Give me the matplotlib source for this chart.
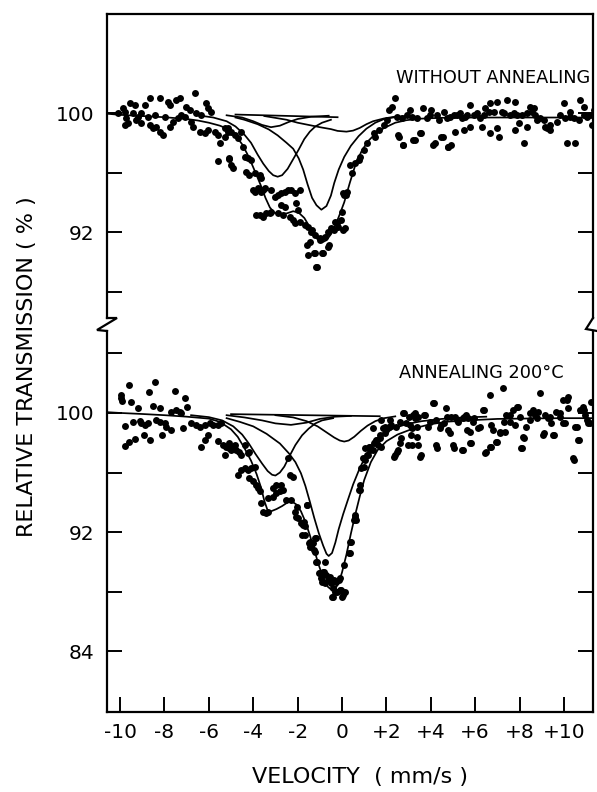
import matplotlib
matplotlib.use("Agg")
import matplotlib.pyplot as plt
from matplotlib.lines import Line2D

plt.rcParams['font.family'] = ['DejaVu Sans']

# ---------------- data (velocity mm/s, relative transmission %) ----------------
x_ticks = [-10, -8, -6, -4, -2, 0, 2, 4, 6, 8, 10]
x_tick_labels = ["-10", "-8", "-6", "-4", "-2", "0", "+2", "+4", "+6", "+8", "+10"]
top_yticks = [88, 92, 96, 100]
top_ylabels = ["", "92", "", "100"]
bot_yticks = [84, 88, 92, 96, 100, 104]
bot_ylabels = ["84", "", "92", "", "100", ""]

# --- upper spectrum (without annealing): measured points ---
upper_pts_left = [
    (-10.09, 99.98), (-9.87, 100.32), (-9.79, 100.1), (-9.57, 100.65), (-9.34, 100.54), (-9.72, 99.65),
    (-9.42, 99.98), (-9.19, 99.76), (-9.04, 99.98), (-8.89, 100.54), (-8.66, 100.99), (-8.21, 100.99),
    (-7.84, 100.77), (-7.76, 100.54), (-7.46, 100.88), (-7.31, 101.03), (-6.64, 101.32), (-7.01, 100.43),
    (-6.86, 100.21), (-6.12, 100.65), (-6.04, 100.32), (-5.89, 100.1), (-9.79, 99.19), (-9.64, 99.31),
    (-9.27, 99.53), (-9.04, 99.31), (-8.66, 99.19), (-8.51, 98.97), (-8.36, 99.08), (-8.21, 98.75),
    (-8.06, 98.52), (-7.76, 99.08), (-7.61, 99.42), (-7.39, 99.65), (-7.24, 99.87), (-7.09, 99.76),
    (-6.79, 99.42), (-6.72, 99.08), (-6.42, 98.75), (-6.19, 98.63), (-6.04, 98.86), (-5.74, 98.75),
    (-5.59, 98.52), (-5.52, 97.96), (-5.29, 98.97), (-5.29, 98.41), (-5.14, 98.75), (-5.59, 96.77),
    (-5.07, 96.99), (-4.99, 96.5), (-7.99, 99.76), (-8.44, 99.87), (-8.74, 99.76), (-6.57, 99.98),
    (-6.34, 99.87), (-5.14, 98.97), (-4.99, 98.75),
]
upper_pts_mid = [
    (-5.07, 96.88), (-4.92, 96.32), (-4.84, 98.52), (-4.69, 98.3), (-4.54, 98.75), (-4.47, 97.74),
    (-4.39, 97.07), (-4.23, 96.95), (-4.08, 96.84), (-4.32, 96.05), (-4.17, 95.83), (-3.94, 95.94),
    (-3.71, 95.83), (-3.63, 95.61), (-4.01, 94.83), (-3.94, 94.72), (-3.78, 94.94), (-3.63, 94.72),
    (-3.56, 94.83), (-3.48, 94.94), (-3.18, 94.83), (-3.86, 93.14), (-3.71, 93.14), (-3.56, 93.03),
    (-3.41, 93.26), (-3.26, 93.26), (-3.18, 93.37), (-3.03, 94.38), (-2.88, 94.49), (-2.73, 94.6),
    (-2.58, 94.72), (-2.43, 94.83), (-2.28, 94.83), (-2.13, 94.6), (-1.9, 94.83), (-2.73, 93.82),
    (-2.58, 93.71), (-2.06, 93.93), (-1.98, 93.48), (-2.88, 93.26), (-2.66, 93.14), (-2.36, 93.03),
    (-2.21, 92.81), (-2.13, 92.58), (-1.9, 92.7), (-1.68, 92.47), (-1.53, 92.36), (-1.38, 92.02),
    (-1.23, 91.8), (-1.45, 91.35), (-1.0, 91.46), (-0.78, 91.69), (-0.63, 92.02), (-0.48, 92.25),
    (-0.33, 92.7), (-0.03, 92.81), (0.05, 92.13), (-0.18, 92.36), (-1.53, 90.45), (-1.23, 90.56),
    (-0.85, 90.56), (-0.63, 91.01), (-1.15, 89.67), (0.05, 94.6), (0.2, 94.49), (0.35, 96.5),
    (-1.58, 91.13), (-1.28, 90.57), (-0.9, 90.57), (-1.13, 89.67), (-1.35, 92.13), (-0.98, 91.57),
    (-0.6, 91.13), (-0.37, 92.13), (-0.23, 92.58), (0.0, 93.37), (0.15, 92.25), (0.07, 94.49),
    (0.22, 94.71), (0.45, 95.94), (0.6, 96.62), (0.75, 96.84), (0.83, 97.06), (0.98, 97.51),
    (1.13, 97.96), (1.43, 98.63), (1.5, 98.41), (1.65, 98.86), (1.88, 99.19), (2.03, 99.53),
    (2.1, 100.2), (2.25, 100.42), (2.4, 100.99),
]
upper_pts_right = [
    (2.59, 98.41), (2.74, 97.85), (3.19, 98.18), (3.56, 98.63), (3.08, 100.2), (3.64, 100.31),
    (4.02, 100.2), (4.28, 99.87), (4.58, 100.09), (4.88, 99.76), (5.18, 99.87), (5.41, 99.64),
    (5.56, 99.76), (5.78, 100.54), (5.93, 99.87), (6.23, 99.64), (6.46, 100.31), (6.68, 100.65),
    (6.83, 100.09), (6.98, 100.76), (7.28, 99.98), (7.43, 100.87), (7.81, 100.76), (7.88, 99.87),
    (8.18, 97.96), (8.33, 99.08), (8.48, 100.42), (8.63, 100.31), (8.78, 99.53), (9.08, 99.53),
    (9.23, 98.97), (9.38, 98.86), (9.68, 99.42), (9.99, 100.65), (10.29, 99.76), (10.44, 99.64),
    (10.14, 97.96), (10.51, 97.96), (10.74, 100.87), (10.89, 100.42), (11.04, 99.76), (11.27, 99.19),
    (11.34, 100.2), (4.1, 97.85), (4.48, 98.41), (4.78, 97.74), (4.93, 97.85), (5.08, 98.75),
    (5.48, 98.86), (5.78, 99.08), (6.31, 99.08), (6.68, 98.63), (6.98, 98.97), (7.06, 98.41),
    (7.81, 98.86), (7.96, 99.31), (2.48, 99.76), (2.71, 99.64), (2.93, 99.87), (3.16, 99.76),
    (3.38, 99.64), (3.83, 99.64), (3.98, 99.87), (4.36, 99.53), (4.73, 99.64), (5.03, 99.87),
    (5.33, 99.98), (5.63, 99.87), (6.08, 99.98), (6.38, 99.87), (6.61, 100.09), (7.21, 100.09),
    (7.58, 99.87), (7.73, 99.98), (8.11, 99.87), (8.33, 99.98), (8.56, 100.09), (8.71, 99.87),
    (8.93, 99.64), (9.16, 99.08), (9.38, 99.19), (9.83, 99.87), (10.06, 99.64), (10.29, 100.09),
    (10.66, 99.53), (10.89, 99.87), (11.19, 99.87), (2.52, 98.52), (2.75, 97.85), (3.27, 98.18),
    (3.5, 98.63), (4.17, 97.96), (4.55, 98.41), (4.77, 97.74),
]

# --- upper spectrum: fitted envelope and sub-spectra ---
upper_fit_v = [-10.55, -10.0, -9.0, -8.0, -7.0, -6.5, -6.0, -5.5, -5.1, -4.8, -4.5, -4.2, -3.9, -3.65,
               -3.45, -3.25, -3.05, -2.8, -2.5, -2.2, -1.95, -1.7, -1.5, -1.3, -1.1, -0.9, -0.7, -0.5,
               -0.3, -0.1, 0.1, 0.35, 0.6, 0.9, 1.2, 1.5, 1.9, 2.4, 2.9, 3.5, 4.5, 6.0, 8.0, 10.0, 11.3]
upper_fit_t = [99.95, 99.88, 99.8, 99.72, 99.6, 99.5, 99.35, 99.15, 98.9, 98.5, 97.9, 97.05, 96.0, 95.1,
               94.3, 93.65, 93.3, 93.2, 93.25, 93.4, 93.3, 92.95, 92.45, 91.95, 91.5, 91.3, 91.45, 91.85,
               92.45, 93.2, 94.0, 95.3, 96.5, 97.5, 98.15, 98.6, 99.0, 99.35, 99.52, 99.62, 99.68, 99.7,
               99.7, 99.7, 99.7]
upper_c1_v = [-6.5, -5.8, -5.2, -4.8, -4.4, -4.1, -3.8, -3.55, -3.3, -3.1, -2.9, -2.7, -2.45, -2.2,
              -1.95, -1.7, -1.45, -1.2, -0.9, -0.5]
upper_c1_t = [99.85, 99.7, 99.45, 99.1, 98.55, 98.0, 97.2, 96.6, 96.1, 95.82, 95.72, 95.82, 96.25, 96.9,
              97.55, 98.25, 98.75, 99.1, 99.35, 99.55]
upper_c2_v = [-4.8, -4.4, -3.8, -3.3, -2.9, -2.5, -2.2, -1.95, -1.75, -1.55, -1.35, -1.15, -0.93, -0.7,
              -0.5, -0.35, -0.15, 0.1, 0.4, 0.75, 1.1, 1.5, 1.9, 2.5, 3.2]
upper_c2_t = [99.7, 99.55, 99.25, 98.9, 98.5, 98.0, 97.6, 96.95, 96.2, 95.2, 94.3, 93.8, 93.5, 93.75,
              94.45, 95.3, 96.2, 97.05, 97.8, 98.45, 98.95, 99.35, 99.6, 99.75, 99.82]
upper_c3_v = [-3.5, -2.5, -2.0, -1.5, -1.0, -0.5, -0.2, 0.2, 0.5, 0.8, 1.1, 1.4, 1.9, 2.5]
upper_c3_t = [99.8, 99.55, 99.35, 99.2, 99.05, 98.92, 98.8, 98.75, 98.82, 99.0, 99.25, 99.45, 99.64, 99.78]
upper_c4_v = [-5.2, -4.5, -4.0, -3.6, -3.2, -2.8, -2.4, -2.0, -1.4, -0.6]
upper_c4_t = [99.85, 99.7, 99.45, 99.2, 99.05, 99.15, 99.4, 99.6, 99.75, 99.82]
upper_c5_v = [-4.8, -0.2]
upper_c5_t = [99.9, 99.72]

# --- lower spectrum (annealing 200 C): measured points ---
lower_pts_left = [
    (-9.95, 101.2), (-9.61, 101.88), (-8.44, 102.06), (-8.71, 101.43), (-7.54, 101.48), (-7.06, 101.03),
    (-9.97, 101.03), (-9.91, 100.8), (-9.49, 100.76), (-9.19, 100.36), (-8.51, 100.49), (-8.21, 100.36),
    (-7.69, 100.09), (-7.46, 100.2), (-7.31, 100.09), (-7.24, 99.98), (-6.97, 100.43), (-9.42, 99.42),
    (-9.12, 99.46), (-9.04, 99.3), (-8.89, 99.19), (-8.74, 99.3), (-8.36, 99.53), (-8.21, 99.42),
    (-7.99, 99.3), (-7.91, 99.08), (-7.69, 98.86), (-7.16, 98.97), (-9.79, 99.15), (-8.92, 98.52),
    (-8.66, 98.19), (-8.11, 98.52), (-9.34, 98.26), (-9.61, 98.08), (-9.79, 97.81), (-6.79, 99.3),
    (-6.57, 99.19), (-6.42, 99.08), (-6.19, 99.19), (-5.97, 99.3), (-5.82, 99.19), (-5.59, 99.19),
    (-5.44, 99.3), (-6.04, 98.52), (-6.19, 98.19), (-6.37, 97.74), (-5.59, 98.12), (-5.37, 97.85),
    (-5.22, 97.74), (-5.07, 97.63), (-5.29, 97.18), (-4.99, 97.52),
]
lower_pts_mid = [
    (-5.07, 97.96), (-4.92, 97.74), (-4.84, 97.85), (-4.77, 97.52), (-4.62, 97.41), (-4.54, 97.18),
    (-4.39, 97.85), (-4.23, 97.29), (-4.17, 97.41), (-4.69, 95.84), (-4.54, 96.18), (-4.39, 96.29),
    (-4.23, 96.18), (-4.08, 96.29), (-3.93, 96.4), (-4.17, 95.62), (-4.02, 95.4), (-3.86, 95.17),
    (-3.78, 94.95), (-3.71, 94.73), (-3.63, 93.94), (-3.56, 93.38), (-3.41, 93.27), (-3.33, 93.38),
    (-3.33, 94.28), (-3.11, 94.39), (-2.96, 94.62), (-2.81, 94.73), (-2.66, 94.84), (-3.11, 94.95),
    (-2.96, 95.17), (-2.73, 95.17), (-2.51, 94.17), (-2.28, 94.17), (-2.36, 95.84), (-2.21, 95.73),
    (-2.43, 96.96), (-2.13, 93.38), (-2.06, 93.05), (-1.98, 92.94), (-1.83, 92.61), (-1.76, 92.49),
    (-1.68, 92.38), (-1.6, 93.83), (-1.68, 91.82), (-1.45, 91.37), (-1.38, 91.04), (-1.3, 91.26),
    (-1.15, 91.6), (-1.23, 90.7), (-1.15, 90.02), (-1.0, 89.24), (-0.85, 89.35), (-0.93, 88.9),
    (-0.78, 88.57), (-0.63, 88.79), (-0.55, 89.01), (-0.48, 88.57), (-0.4, 88.23), (-0.33, 88.01),
    (-0.25, 88.68), (-0.03, 88.12), (0.05, 87.79), (-0.4, 87.67), (-0.1, 88.9), (-0.78, 90.02),
    (-0.7, 89.12), (-2.03, 93.71), (-1.58, 93.82), (-1.73, 92.7), (-1.8, 91.81), (-1.49, 91.25),
    (-1.43, 91.03), (-1.28, 90.81), (-1.2, 91.59), (-1.13, 90.02), (-1.05, 89.24), (-0.83, 89.35),
    (-0.9, 88.68), (-0.38, 88.79), (-0.15, 88.79), (-0.08, 88.12), (-0.45, 87.67), (-0.23, 88.01),
    (0.0, 87.67), (0.15, 88.01), (0.08, 89.8), (0.3, 90.58), (0.38, 91.37), (0.53, 92.82),
    (0.6, 93.04), (0.75, 94.83), (0.83, 95.17), (0.98, 96.4), (1.05, 96.85), (1.13, 97.18),
    (1.28, 97.52), (1.2, 97.74), (1.43, 97.96), (1.58, 98.19), (1.73, 98.3), (1.95, 98.64),
    (2.1, 99.08), (2.33, 97.07), (2.48, 97.4), (2.63, 97.96), (2.78, 99.98), (3.0, 99.75),
    (3.15, 98.97), (3.38, 98.41), (3.53, 97.07), (3.15, 97.85), (3.3, 99.98),
]
lower_pts_right = [
    (0.42, 91.36), (0.35, 90.58), (0.65, 92.82), (0.57, 93.15), (0.8, 94.83), (0.87, 96.29),
    (0.95, 96.96), (1.02, 97.63), (1.17, 97.18), (1.25, 97.74), (1.4, 97.52), (1.47, 98.07),
    (1.55, 98.19), (1.62, 97.85), (1.77, 97.74), (1.7, 98.52), (1.85, 98.97), (2.0, 98.86),
    (2.15, 99.53), (2.22, 99.19), (2.45, 99.08), (2.6, 99.42), (2.75, 99.98), (2.9, 99.3),
    (3.05, 99.19), (3.2, 99.87), (3.27, 99.64), (3.42, 99.75), (3.72, 99.87), (3.87, 99.08),
    (4.1, 100.65), (4.25, 99.53), (4.47, 99.19), (4.7, 100.31), (4.77, 98.86), (4.92, 99.75),
    (5.08, 99.75), (5.23, 99.42), (5.45, 99.64), (5.6, 99.87), (5.75, 98.75), (5.83, 97.96),
    (2.37, 97.18), (2.52, 97.52), (2.97, 97.85), (3.42, 97.85), (3.57, 97.18), (4.25, 97.85),
    (5.0, 97.85), (5.45, 97.52), (1.77, 99.53), (1.92, 99.08), (1.4, 98.97), (2.67, 98.3),
    (3.12, 98.52), (3.38, 99.08), (3.68, 99.87), (3.98, 99.42), (4.13, 100.65), (4.28, 97.63),
    (4.43, 98.97), (4.58, 99.3), (4.73, 99.75), (4.88, 98.64), (5.03, 97.63), (5.18, 99.53),
    (5.41, 97.52), (5.48, 99.75), (5.63, 98.86), (5.78, 97.96), (5.93, 99.64), (6.23, 99.08),
    (6.38, 100.2), (6.46, 97.29), (6.68, 97.74), (6.98, 98.07), (7.13, 98.75), (7.28, 99.42),
    (7.58, 99.87), (7.88, 100.42), (8.18, 98.3), (8.11, 97.63), (8.48, 99.98), (8.78, 99.64),
    (9.08, 98.64), (9.38, 99.75), (9.54, 98.52), (9.83, 99.98), (9.98, 99.3), (10.14, 100.87),
    (10.44, 96.85), (10.59, 99.08), (10.66, 98.19), (10.89, 100.2), (11.04, 99.53), (11.18, 99.3),
    (5.68, 99.64), (5.9, 99.42), (6.13, 98.97), (6.35, 100.2), (6.65, 101.21), (6.73, 99.19),
    (6.8, 98.86), (6.5, 97.4), (6.73, 97.74), (6.95, 98.07), (7.1, 98.64), (7.33, 98.75),
    (7.25, 101.7), (7.4, 99.87), (7.55, 99.42), (7.7, 100.2), (7.78, 99.19), (7.93, 100.42),
    (8.0, 99.75), (8.08, 97.63), (8.15, 98.41), (8.3, 99.08), (8.45, 99.53), (8.6, 100.2),
    (8.68, 99.87), (8.83, 100.09), (8.9, 101.32), (9.05, 98.52), (9.13, 99.87), (9.28, 99.64),
    (9.43, 99.3), (9.5, 98.52), (9.66, 100.09), (9.81, 99.75), (9.96, 100.87), (10.03, 99.3),
    (10.18, 101.09), (10.18, 100.31), (10.48, 99.08), (10.63, 98.19), (10.41, 96.96), (10.71, 100.2),
    (10.86, 100.42), (10.93, 99.87), (11.08, 99.3), (11.23, 100.76),
]

# --- lower spectrum: fitted envelope and sub-spectra ---
lower_fit_v = [-10.55, -10.0, -9.0, -8.0, -7.0, -6.0, -5.5, -5.0, -4.7, -4.4, -4.1, -3.85, -3.65, -3.5,
               -3.35, -3.2, -2.95, -2.7, -2.45, -2.25, -2.05, -1.85, -1.65, -1.45, -1.25, -1.05, -0.85,
               -0.65, -0.45, -0.3, -0.15, 0.0, 0.2, 0.4, 0.6, 0.8, 1.0, 1.3, 1.6, 2.0, 2.5, 3.2, 4.0,
               4.8, 5.9, 7.0, 8.5, 10.0, 11.3]
lower_fit_t = [100.05, 100.0, 99.93, 99.85, 99.75, 99.62, 99.4, 98.9, 98.4, 97.65, 96.8, 95.9, 95.0, 94.1,
               93.45, 93.4, 93.55, 93.75, 94.0, 94.05, 93.85, 93.4, 92.7, 91.8, 90.8, 89.8, 88.95,
               88.35, 88.1, 88.2, 88.6, 89.3, 90.5, 91.9, 93.2, 94.4, 95.5, 96.7, 97.5, 98.1, 98.55,
               98.95, 99.25, 99.42, 99.52, 99.6, 99.63, 99.65, 99.65]
lower_c1_v = [-6.8, -6.0, -5.4, -4.9, -4.5, -4.2, -3.9, -3.6, -3.35, -3.15, -3.0, -2.8, -2.6, -2.35,
              -2.1, -1.8, -1.5, -1.2, -0.9, -0.4]
lower_c1_t = [99.85, 99.72, 99.5, 99.1, 98.55, 97.95, 97.25, 96.6, 96.1, 95.85, 95.8, 96.0, 96.4, 97.15,
              97.85, 98.5, 98.95, 99.3, 99.5, 99.65]
lower_c2_v = [-5.2, -4.6, -4.0, -3.4, -2.8, -2.4, -2.1, -1.85, -1.65, -1.45, -1.25, -1.05, -0.85, -0.7,
              -0.6, -0.45, -0.3, -0.15, 0.05, 0.25, 0.5, 0.8, 1.1, 1.45, 1.8, 2.3, 2.9, 3.6, 4.5, 5.5, 6.5]
lower_c2_t = [99.65, 99.4, 99.1, 98.6, 97.95, 97.3, 96.7, 95.95, 95.1, 94.05, 92.95, 91.95, 91.1, 90.55,
              90.4, 90.6, 91.3, 92.2, 93.2, 94.1, 95.2, 96.3, 97.2, 98.0, 98.5, 98.95, 99.25, 99.45,
              99.6, 99.7, 99.75]
lower_c3_v = [-3.0, -2.2, -1.6, -1.1, -0.7, -0.35, -0.1, 0.1, 0.3, 0.55, 0.85, 1.15, 1.5, 1.9, 2.4]
lower_c3_t = [99.85, 99.7, 99.45, 99.1, 98.7, 98.35, 98.15, 98.08, 98.15, 98.4, 98.8, 99.15, 99.45, 99.65, 99.77]
lower_c4_v = [-5.2, -4.4, -3.6, -3.0, -2.3, -1.6, -1.0, -0.3, 0.4]
lower_c4_t = [99.85, 99.7, 99.5, 99.3, 99.2, 99.35, 99.6, 99.75, 99.8]
lower_c5_v = [-5.0, 1.7]
lower_c5_t = [99.92, 99.78]

# ---------------- figure layout (pixel geometry of the original) ----------------
W, H = 597, 792
fig = plt.figure(figsize=(W / 100, H / 100), dpi=100)


def fx(px):
    return px / W


def fy(py):
    return 1 - py / H


LEFT, RIGHT = 107, 593
TOP, UP_BOT, LO_TOP, BOT = 14, 318, 331, 712
ax_up = fig.add_axes([fx(LEFT), fy(UP_BOT), fx(RIGHT) - fx(LEFT), fy(TOP) - fy(UP_BOT)])
ax_lo = fig.add_axes([fx(LEFT), fy(BOT), fx(RIGHT) - fx(LEFT), fy(LO_TOP) - fy(BOT)])

XLIM = (-10.59, 11.31)
ax_up.set_xlim(*XLIM)
ax_lo.set_xlim(*XLIM)
ax_up.set_ylim(86.22, 106.66)
ax_lo.set_ylim(79.93, 105.5)

LW_FIT = 1.25
MS = 5.0


def draw(ax, pts_lists, fits):
    for v, t in fits:
        ax.plot(v, t, color='black', lw=LW_FIT, solid_joinstyle='round', zorder=2)
    for pts in pts_lists:
        ax.plot([p[0] for p in pts], [p[1] for p in pts], 'o', ms=MS, color='black', mec='none',
                zorder=3, clip_on=True)


draw(ax_up, [upper_pts_left, upper_pts_mid, upper_pts_right],
     [(upper_fit_v, upper_fit_t), (upper_c1_v, upper_c1_t), (upper_c2_v, upper_c2_t),
      (upper_c3_v, upper_c3_t), (upper_c4_v, upper_c4_t), (upper_c5_v, upper_c5_t)])
draw(ax_lo, [lower_pts_left, lower_pts_mid, lower_pts_right],
     [(lower_fit_v, lower_fit_t), (lower_c1_v, lower_c1_t), (lower_c2_v, lower_c2_t),
      (lower_c3_v, lower_c3_t), (lower_c4_v, lower_c4_t), (lower_c5_v, lower_c5_t)])

for ax in (ax_up, ax_lo):
    for s in ax.spines.values():
        s.set_linewidth(1.6)
    ax.tick_params(axis='y', direction='in', length=11, width=1.4, left=True, right=True,
                   labelsize=14.5, pad=9)
ax_up.spines['bottom'].set_visible(False)
ax_lo.spines['top'].set_visible(False)

ax_up.set_yticks(top_yticks)
ax_up.set_yticklabels(top_ylabels)
ax_up.set_xticks([])
ax_lo.set_yticks(bot_yticks)
ax_lo.set_yticklabels(bot_ylabels)
ax_lo.set_xticks(x_ticks)
ax_lo.set_xticklabels(x_tick_labels)
ax_lo.tick_params(axis='x', direction='in', length=11, width=1.4, top=False, bottom=True,
                  labelsize=14.5, pad=8)

# axis break marks
brk_left = [(LEFT, UP_BOT), (LEFT + 10, UP_BOT), (LEFT - 10, LO_TOP - 1), (LEFT, LO_TOP)]
brk_right = [(RIGHT, UP_BOT), (RIGHT - 7, LO_TOP - 2), (RIGHT + 4, LO_TOP)]
for pts in (brk_left, brk_right):
    fig.add_artist(Line2D([fx(p[0]) for p in pts], [fy(p[1]) for p in pts], color='black',
                          lw=1.6, transform=fig.transFigure, solid_joinstyle='miter'))

# texts
fig.text(fx(590), fy(78), "WITHOUT ANNEALING", ha='right', va='center', fontsize=12.8)
fig.text(fx(564), fy(373), "ANNEALING 200°C", ha='right', va='center', fontsize=12.8)
fig.text(fx(360), fy(777), "VELOCITY  ( mm/s )", ha='center', va='center', fontsize=16)
fig.text(fx(27), fy(367), "RELATIVE TRANSMISSION ( % )", ha='center', va='center',
         rotation=90, fontsize=16)

fig.savefig("out.png", dpi=100, facecolor='white')
